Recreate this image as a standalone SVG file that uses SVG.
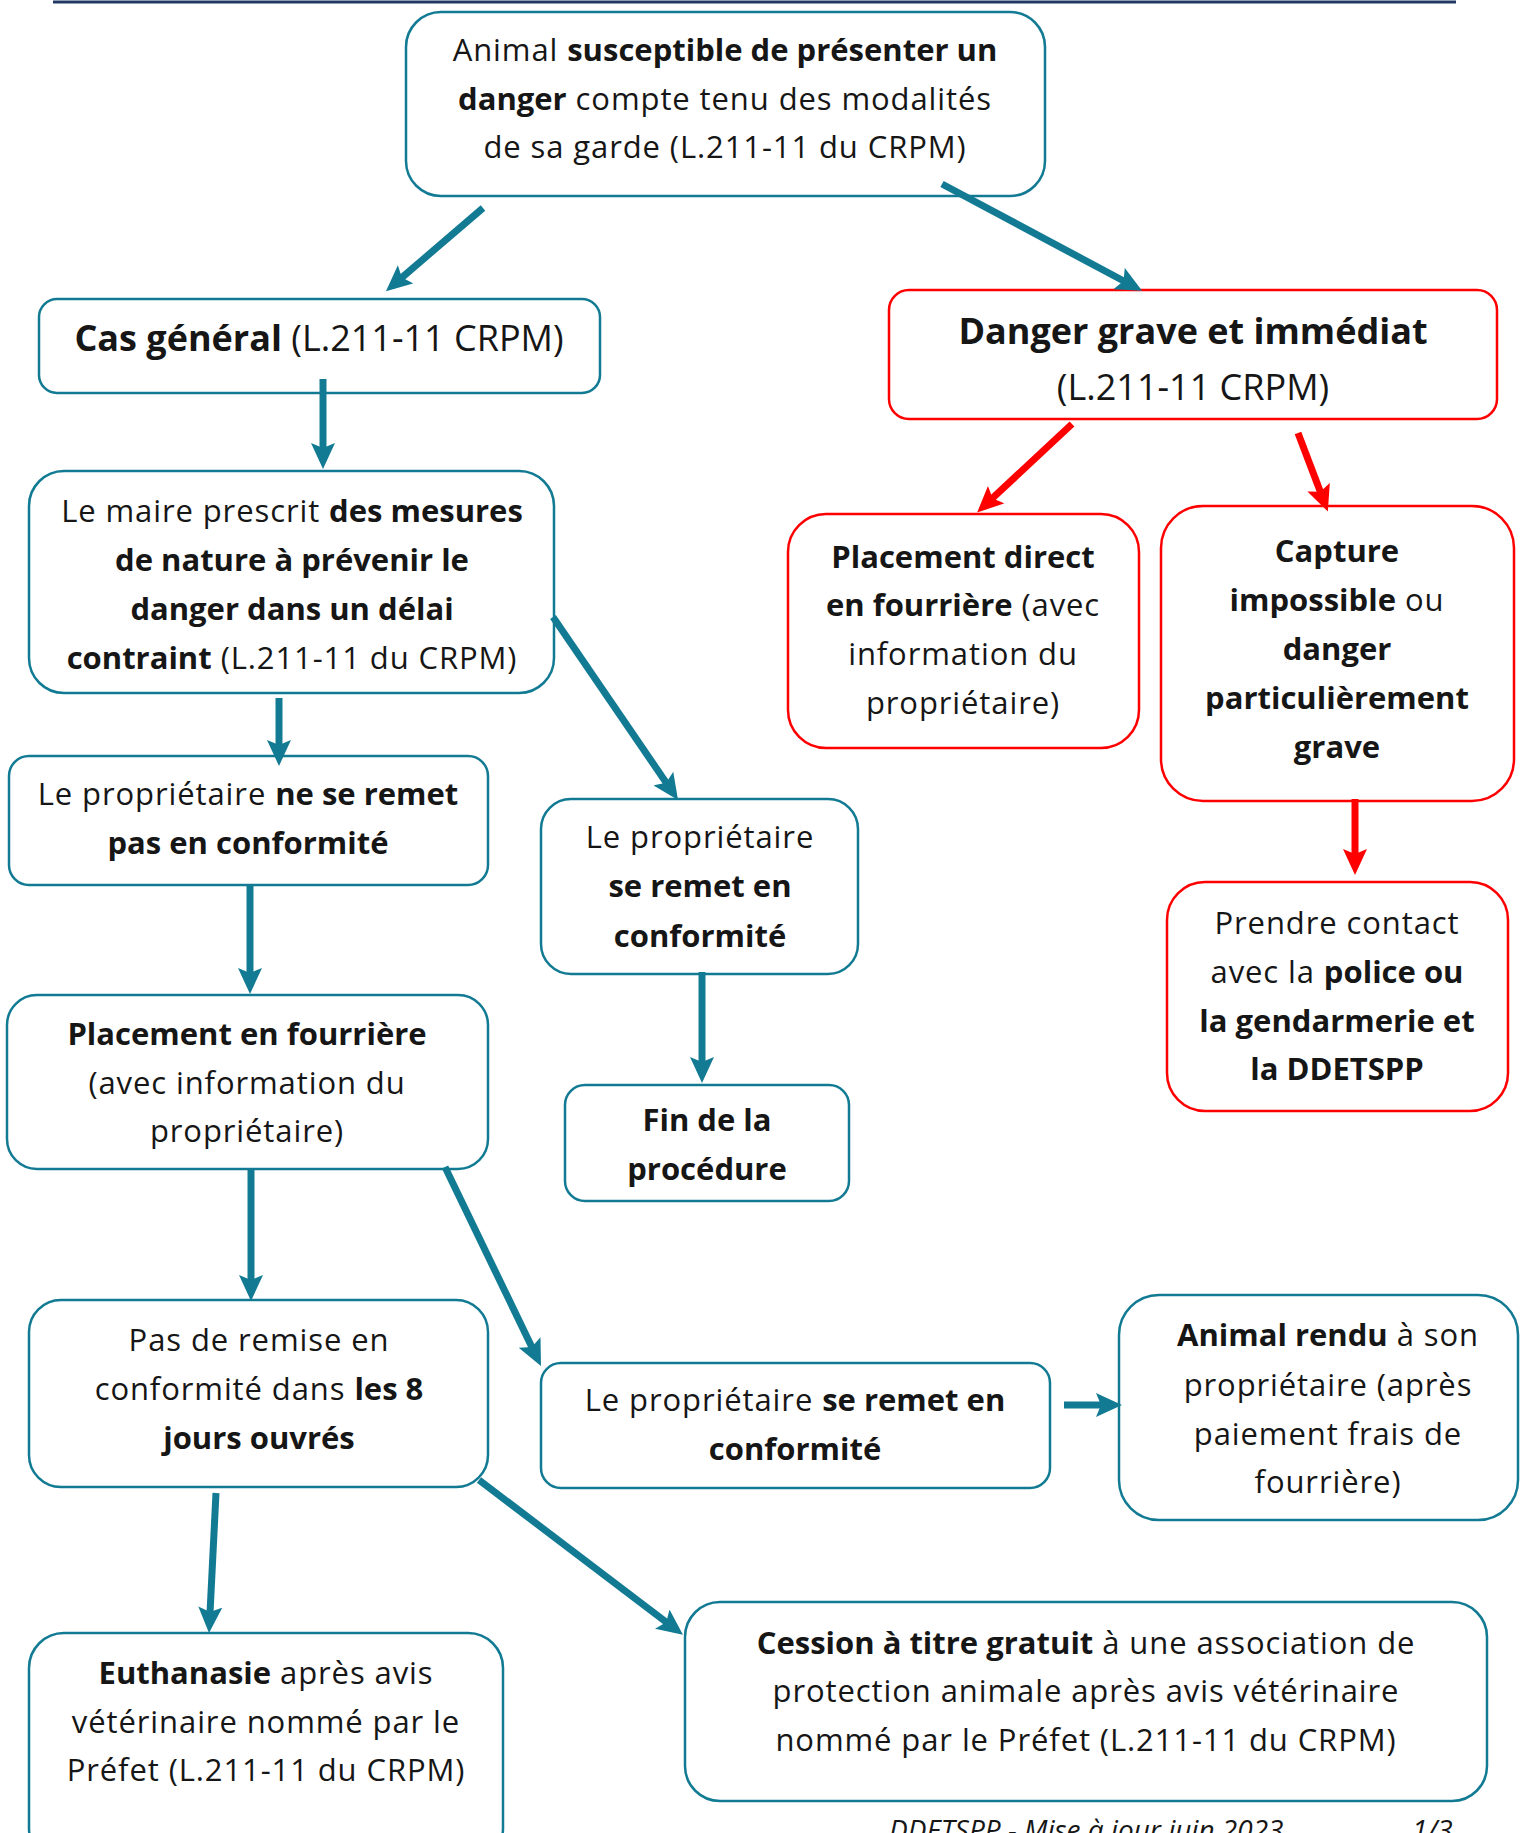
<svg xmlns="http://www.w3.org/2000/svg" width="1520" height="1833" viewBox="0 0 1520 1833">
<style>
.bt{fill:#fff;stroke:#127b93;stroke-width:2.5}
.br{fill:#fff;stroke:#ff0000;stroke-width:2.5}
text{font-family:"Open Sans","Liberation Sans",sans-serif;font-size:31px;letter-spacing:0.9px;fill:#161616;text-anchor:middle}
.big{font-size:36px;letter-spacing:0}
.b{font-weight:bold;letter-spacing:0}
.ct{stroke:#127b93;stroke-width:7;fill:none;marker-end:url(#ht)}
.cr{stroke:#ff0000;stroke-width:7;fill:none;marker-end:url(#hr)}
.foot{font-style:italic;font-size:28px;letter-spacing:0;text-anchor:start}
</style>
<defs>
<marker id="ht" markerUnits="userSpaceOnUse" viewBox="0 0 26 24" markerWidth="26" markerHeight="24" refX="18" refY="12" orient="auto"><path d="M0,0 L26,12 L0,24 L5,12 z" fill="#127b93"/></marker>
<marker id="hr" markerUnits="userSpaceOnUse" viewBox="0 0 26 24" markerWidth="26" markerHeight="24" refX="18" refY="12" orient="auto"><path d="M0,0 L26,12 L0,24 L5,12 z" fill="#ff0000"/></marker>
</defs>
<line x1="53" y1="2" x2="1456" y2="2" stroke="#1f3864" stroke-width="3"/>

<g id="n1"><rect class="bt" x="406" y="12" width="639" height="184" rx="35"/>
<text x="725" y="61">Animal <tspan class="b">susceptible de présenter un</tspan></text>
<text x="725" y="110"><tspan class="b">danger</tspan> compte tenu des modalités</text>
<text x="725" y="158">de sa garde (L.211-11 du CRPM)</text></g>

<g id="n2"><rect class="bt" x="39" y="299" width="561" height="94" rx="18"/>
<text class="big" x="319" y="351"><tspan class="b">Cas général</tspan> (L.211-11 CRPM)</text></g>

<g id="n3"><rect class="br" x="889" y="290" width="608" height="129" rx="20"/>
<text class="big b" x="1193" y="344">Danger grave et immédiat</text>
<text class="big" x="1193" y="400">(L.211-11 CRPM)</text></g>

<g id="n4"><rect class="bt" x="29" y="471" width="525" height="222" rx="35"/>
<text x="292" y="522">Le maire prescrit <tspan class="b">des mesures</tspan></text>
<text class="b" x="292" y="571">de nature à prévenir le</text>
<text class="b" x="292" y="620">danger dans un délai</text>
<text x="292" y="669"><tspan class="b">contraint</tspan> (L.211-11 du CRPM)</text></g>

<g id="n5"><rect class="br" x="788" y="514" width="351" height="234" rx="38"/>
<text class="b" x="963" y="568">Placement direct</text>
<text x="963" y="616"><tspan class="b">en fourrière</tspan> (avec</text>
<text x="963" y="665">information du</text>
<text x="963" y="714">propriétaire)</text></g>

<g id="n6"><rect class="br" x="1161" y="506" width="353" height="295" rx="42"/>
<text class="b" x="1337" y="562">Capture</text>
<text x="1337" y="611"><tspan class="b">impossible</tspan> ou</text>
<text class="b" x="1337" y="660">danger</text>
<text class="b" x="1337" y="709">particulièrement</text>
<text class="b" x="1337" y="758">grave</text></g>

<g id="n7"><rect class="br" x="1167" y="882" width="341" height="229" rx="38"/>
<text x="1337" y="934">Prendre contact</text>
<text x="1337" y="983">avec la <tspan class="b">police ou</tspan></text>
<text class="b" x="1337" y="1032">la gendarmerie et</text>
<text class="b" x="1337" y="1080">la DDETSPP</text></g>

<g id="n8"><rect class="bt" x="9" y="756" width="479" height="129" rx="20"/>
<text x="248" y="805">Le propriétaire <tspan class="b">ne se remet</tspan></text>
<text class="b" x="248" y="854">pas en conformité</text></g>

<g id="n9"><rect class="bt" x="541" y="799" width="317" height="175" rx="30"/>
<text x="700" y="848">Le propriétaire</text>
<text class="b" x="700" y="897">se remet en</text>
<text class="b" x="700" y="947">conformité</text></g>

<g id="n10"><rect class="bt" x="7" y="995" width="481" height="174" rx="30"/>
<text class="b" x="247" y="1045">Placement en fourrière</text>
<text x="247" y="1094">(avec information du</text>
<text x="247" y="1142">propriétaire)</text></g>

<g id="n11"><rect class="bt" x="565" y="1085" width="284" height="116" rx="20"/>
<text class="b" x="707" y="1131">Fin de la</text>
<text class="b" x="707" y="1180">procédure</text></g>

<g id="n12"><rect class="bt" x="29" y="1300" width="459" height="187" rx="32"/>
<text x="259" y="1351">Pas de remise en</text>
<text x="259" y="1400">conformité dans <tspan class="b">les 8</tspan></text>
<text class="b" x="259" y="1449">jours ouvrés</text></g>

<g id="n13"><rect class="bt" x="541" y="1363" width="509" height="125" rx="20"/>
<text x="795" y="1411">Le propriétaire <tspan class="b">se remet en</tspan></text>
<text class="b" x="795" y="1460">conformité</text></g>

<g id="n14"><rect class="bt" x="1119" y="1295" width="399" height="225" rx="40"/>
<text x="1328" y="1346"><tspan class="b">Animal rendu</tspan> à son</text>
<text x="1328" y="1396">propriétaire (après</text>
<text x="1328" y="1445">paiement frais de</text>
<text x="1328" y="1493">fourrière)</text></g>

<g id="n15"><rect class="bt" x="29" y="1633" width="474" height="230" rx="35"/>
<text x="266" y="1684"><tspan class="b">Euthanasie</tspan> après avis</text>
<text x="266" y="1733">vétérinaire nommé par le</text>
<text x="266" y="1781">Préfet (L.211-11 du CRPM)</text></g>

<g id="n16"><rect class="bt" x="685" y="1602" width="802" height="199" rx="35"/>
<text x="1086" y="1654"><tspan class="b">Cession à titre gratuit</tspan> à une association de</text>
<text x="1086" y="1702">protection animale après avis vétérinaire</text>
<text x="1086" y="1751">nommé par le Préfet (L.211-11 du CRPM)</text></g>

<g id="footer">
<text class="foot" x="889" y="1840">DDETSPP - Mise à jour juin 2023</text>
<text class="foot" x="1412" y="1840">1/3</text>
</g>

<g id="connectors">
<line class="ct" x1="483" y1="208" x2="392" y2="286"/>
<line class="ct" x1="942" y1="184" x2="1135" y2="287"/>
<line class="ct" x1="323" y1="379" x2="323" y2="461"/>
<line class="cr" x1="1072" y1="424" x2="983" y2="507"/>
<line class="cr" x1="1298" y1="433" x2="1325" y2="504"/>
<line class="cr" x1="1355" y1="799" x2="1355" y2="867"/>
<line class="ct" x1="279" y1="698" x2="279" y2="758"/>
<line class="ct" x1="553" y1="617" x2="673.5" y2="793.4"/>
<line class="ct" x1="250" y1="885" x2="250" y2="986"/>
<line class="ct" x1="702" y1="972" x2="702" y2="1075"/>
<line class="ct" x1="251" y1="1169" x2="251" y2="1293"/>
<line class="ct" x1="445" y1="1167" x2="537.5" y2="1358.8"/>
<line class="ct" x1="1064" y1="1405" x2="1114" y2="1405"/>
<line class="ct" x1="216" y1="1493" x2="209.4" y2="1625"/>
<line class="ct" x1="479" y1="1480" x2="676.6" y2="1630"/>
</g>
</svg>
